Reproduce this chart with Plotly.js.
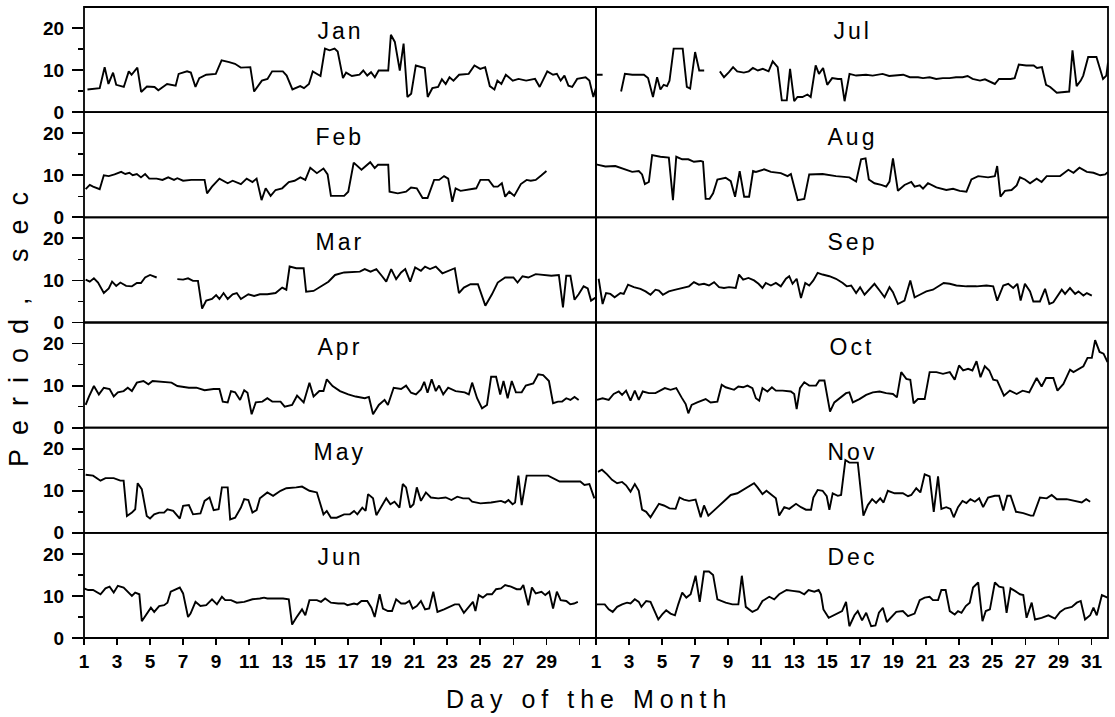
<!DOCTYPE html>
<html><head><meta charset="utf-8">
<script src="https://cdn.plot.ly/plotly-3.0.1.min.js"></script>
<style>body{margin:0;background:#fff}</style>
</head><body><div id="chart" style="width:1115px;height:717px"></div>
<script>
// [day of month, wave period in sec]; null = gap in record
const jan = [[1.21,5.4],[1.95,5.7],[2.25,10.7],[2.48,6.7],[2.76,9.4],[2.95,6.5],[3.41,6.0],[3.71,9.7],[3.88,8.9],[4.23,10.6],[4.46,4.8],[4.81,6.1],[5.27,6.0],[5.5,5.2],[6.03,6.7],[6.55,6.3],[6.73,9.1],[7.24,9.7],[7.47,9.4],[7.75,6.0],[7.98,8.1],[8.4,8.9],[8.98,9.1],[9.33,12.3],[9.79,11.9],[10.14,11.5],[10.49,10.6],[11.07,10.7],[11.3,4.9],[11.77,7.5],[12.11,7.9],[12.39,9.7],[13.04,9.7],[13.27,8.7],[13.62,5.4],[14.09,6.2],[14.32,5.7],[14.62,6.7],[14.85,9.7],[15.32,8.6],[15.59,15.1],[15.87,14.7],[16.17,15.1],[16.36,14.4],[16.68,8.1],[16.87,9.4],[17.22,8.6],[17.68,8.9],[17.91,9.9],[18.15,8.7],[18.38,9.5],[18.61,8.3],[18.84,9.9],[19.42,9.9],[19.58,18.4],[19.82,16.7],[20.12,9.9],[20.35,16.3],[20.58,3.6],[20.81,4.4],[21.09,11.1],[21.63,10.5],[21.81,3.6],[22.09,5.7],[22.44,6.0],[22.67,7.8],[22.9,6.7],[23.13,8.3],[23.37,7.5],[23.71,8.9],[24.29,9.1],[24.64,11.1],[24.99,10.3],[25.29,10.7],[25.57,6.2],[25.85,5.4],[26.03,7.5],[26.27,6.7],[26.54,8.9],[26.96,7.5],[27.31,7.9],[27.77,7.5],[28.31,7.9],[28.59,6.0],[29.05,9.7],[29.4,8.9],[29.63,9.1],[29.86,7.5],[30.09,8.7],[30.33,6.3],[30.56,6.0],[30.86,7.9],[31.37,8.3],[31.6,7.5],[31.84,3.6],[32.0,5.8]];
const feb = [[1.1,6.7],[1.35,7.7],[1.55,7.3],[1.95,6.7],[2.2,10.0],[2.5,9.8],[2.85,10.2],[3.25,10.8],[3.5,10.3],[3.75,10.6],[3.95,10.0],[4.2,10.3],[4.45,9.5],[4.7,10.3],[4.95,9.2],[5.4,9.2],[5.75,8.9],[6.1,9.5],[6.45,8.9],[6.65,9.3],[7.0,8.7],[7.5,8.9],[7.95,8.9],[8.3,8.9],[8.45,5.7],[8.75,7.3],[9.2,9.2],[9.7,8.1],[10.0,8.7],[10.5,7.9],[10.85,9.2],[11.2,8.4],[11.45,9.2],[11.75,4.1],[12.0,6.9],[12.3,5.1],[12.6,6.5],[13.0,6.9],[13.4,8.4],[13.75,8.7],[14.1,9.5],[14.4,8.9],[14.7,11.8],[15.1,10.5],[15.5,11.6],[15.75,10.2],[15.95,5.1],[16.75,5.1],[17.0,6.1],[17.33,13.0],[17.8,11.3],[18.33,13.1],[18.6,11.7],[18.8,12.5],[19.42,12.5],[19.5,6.1],[20.0,5.7],[20.5,6.1],[20.8,7.1],[21.15,6.9],[21.5,4.6],[21.8,4.6],[22.2,8.9],[22.5,8.9],[22.8,9.8],[23.05,9.2],[23.3,3.7],[23.5,6.9],[23.8,6.3],[24.3,6.7],[24.75,6.9],[25.0,8.9],[25.5,8.9],[25.8,7.3],[26.05,7.3],[26.3,8.1],[26.5,4.9],[26.75,6.1],[27.05,5.1],[27.45,7.9],[27.8,8.9],[28.05,8.7],[28.35,8.9],[28.7,10.0],[29.0,11.0]];
const mar = [[1.1,10.2],[1.35,9.7],[1.6,10.5],[1.85,9.5],[2.2,7.0],[2.5,8.1],[2.7,9.7],[2.95,8.7],[3.2,9.5],[3.55,8.7],[3.9,8.6],[4.2,9.4],[4.45,9.4],[4.7,10.7],[5.0,11.3],[5.4,10.7],[5.9,null],[6.65,10.3],[7.0,10.2],[7.3,10.5],[7.6,9.9],[7.9,9.9],[8.15,3.3],[8.4,5.2],[8.75,5.6],[9.0,6.5],[9.2,5.6],[9.45,7.0],[9.7,5.6],[10.0,6.7],[10.25,7.0],[10.5,5.6],[10.95,6.7],[11.3,6.3],[11.65,6.7],[12.1,6.7],[12.6,7.0],[13.0,8.3],[13.25,7.8],[13.45,13.3],[13.85,12.9],[14.3,12.9],[14.45,7.3],[14.9,7.5],[15.35,8.6],[15.8,9.7],[16.2,11.3],[16.75,11.9],[17.7,12.1],[18.0,12.7],[18.35,12.1],[18.7,12.7],[19.05,11.0],[19.3,9.7],[19.6,12.7],[19.9,10.3],[20.2,11.9],[20.45,12.7],[20.75,9.7],[21.05,13.1],[21.4,12.3],[21.65,13.3],[21.95,12.7],[22.3,13.3],[22.7,11.7],[23.2,12.5],[23.45,12.9],[23.7,7.0],[24.0,8.3],[24.4,9.1],[24.85,9.1],[25.3,4.0],[25.7,6.7],[26.05,9.5],[26.5,10.7],[27.0,10.7],[27.25,9.5],[27.55,11.0],[27.9,10.7],[28.35,11.5],[28.8,11.3],[29.3,11.1],[29.75,11.3],[30.0,3.6],[30.2,11.1],[30.45,11.1],[30.7,5.4],[30.95,6.7],[31.25,8.6],[31.5,8.1],[31.7,5.2],[32.0,6.0]];
const apr = [[1.1,5.4],[1.3,7.4],[1.6,9.9],[1.9,7.9],[2.2,9.5],[2.55,9.2],[2.8,7.4],[3.05,8.4],[3.4,8.7],[3.65,9.5],[3.9,8.7],[4.2,10.7],[4.6,11.1],[4.9,10.3],[5.15,11.1],[5.6,10.9],[6.3,10.7],[6.65,9.9],[7.35,9.5],[7.8,9.5],[8.3,8.9],[8.85,9.2],[9.2,9.2],[9.4,6.2],[9.7,6.0],[9.9,8.7],[10.15,8.4],[10.45,6.6],[10.7,8.9],[10.9,8.3],[11.15,3.2],[11.4,6.0],[11.8,6.2],[12.1,7.0],[12.4,6.2],[12.9,6.2],[13.15,5.0],[13.6,5.4],[13.9,7.6],[14.3,6.0],[14.65,10.7],[14.9,7.4],[15.25,8.7],[15.5,8.7],[15.7,11.5],[16.05,9.9],[16.5,8.7],[17.0,7.9],[17.45,7.4],[18.0,7.0],[18.25,7.3],[18.5,3.2],[18.85,5.4],[19.2,6.6],[19.4,5.4],[19.75,9.5],[20.2,9.2],[20.5,10.0],[20.8,8.3],[21.1,7.9],[21.4,9.1],[21.6,10.9],[21.8,8.3],[22.05,11.5],[22.3,8.7],[22.5,10.0],[22.75,7.9],[23.05,9.5],[23.5,8.7],[24.05,8.4],[24.3,7.9],[24.5,10.7],[24.8,7.0],[25.1,4.6],[25.4,5.4],[25.65,12.1],[25.95,12.1],[26.2,7.9],[26.4,11.1],[26.65,7.0],[26.9,11.1],[27.15,8.4],[27.5,8.4],[27.75,10.0],[28.2,10.5],[28.5,12.7],[28.8,12.5],[29.15,11.1],[29.4,5.8],[29.7,6.2],[29.95,6.2],[30.2,7.0],[30.45,6.6],[30.7,7.3],[30.95,6.6]];
const may = [[1.1,13.8],[1.55,13.6],[2.0,12.4],[2.3,13.0],[2.8,13.0],[3.2,12.4],[3.4,12.4],[3.6,4.0],[3.9,4.8],[4.1,5.6],[4.25,11.8],[4.5,10.4],[4.8,4.0],[5.0,3.4],[5.25,4.4],[5.55,4.8],[5.85,4.8],[6.05,5.6],[6.4,5.2],[6.8,3.4],[7.0,6.4],[7.35,6.6],[7.6,4.4],[8.05,4.6],[8.3,7.6],[8.6,8.4],[8.85,5.4],[9.15,5.6],[9.35,10.8],[9.7,10.8],[9.85,3.2],[10.15,3.6],[10.5,6.0],[10.7,8.0],[10.95,7.8],[11.2,4.8],[11.45,5.4],[11.65,8.2],[12.1,9.6],[12.45,8.8],[12.9,10.0],[13.25,10.6],[13.85,10.8],[14.2,11.0],[14.65,10.0],[15.1,9.6],[15.5,4.4],[15.7,5.2],[15.95,3.6],[16.3,3.6],[16.75,4.4],[17.1,4.4],[17.35,5.2],[17.55,4.4],[17.85,6.0],[18.05,5.2],[18.2,9.2],[18.5,8.2],[18.7,4.2],[19.05,6.4],[19.3,8.2],[19.55,6.8],[19.8,7.4],[20.1,6.0],[20.3,11.6],[20.5,10.8],[20.75,6.0],[20.95,6.8],[21.15,10.8],[21.4,7.6],[21.7,9.6],[22.0,8.4],[22.45,8.2],[22.9,8.4],[23.25,7.8],[23.6,8.6],[23.95,8.2],[24.3,8.2],[24.5,7.4],[25.0,7.0],[25.65,7.2],[26.25,7.6],[26.5,7.2],[26.7,7.8],[26.95,6.8],[27.1,7.2],[27.3,13.6],[27.5,6.6],[27.8,13.6],[29.1,13.6],[29.45,12.8],[29.8,12.2],[30.4,12.2],[31.05,12.2],[31.3,11.4],[31.6,11.6],[31.9,8.2]];
const jun = [[1.0,11.8],[1.25,11.4],[1.55,11.4],[2.0,10.4],[2.3,11.8],[2.55,12.2],[2.8,10.8],[3.05,12.4],[3.4,12.0],[3.65,11.0],[3.9,10.0],[4.1,10.8],[4.35,10.4],[4.5,4.0],[4.8,5.8],[5.05,7.2],[5.25,6.2],[5.55,7.6],[5.85,7.8],[6.05,8.4],[6.25,11.0],[6.8,12.0],[7.0,10.6],[7.3,5.0],[7.45,5.8],[7.75,8.6],[8.05,7.6],[8.4,7.8],[8.75,9.2],[9.05,8.0],[9.35,9.8],[9.55,9.0],[9.9,9.0],[10.25,8.4],[10.7,8.6],[11.2,9.2],[11.65,9.4],[11.9,9.6],[12.1,9.4],[12.55,9.4],[13.05,9.4],[13.4,9.2],[13.6,3.2],[13.85,4.8],[14.2,6.8],[14.4,5.4],[14.65,9.0],[15.1,9.0],[15.35,8.6],[15.6,9.4],[15.95,8.4],[16.4,8.2],[16.75,8.2],[16.95,7.8],[17.35,8.2],[17.55,8.0],[17.8,8.8],[18.15,8.8],[18.4,7.2],[18.6,5.0],[18.9,10.4],[19.1,7.0],[19.4,6.4],[19.65,6.4],[19.9,9.2],[20.2,8.2],[20.45,8.2],[20.7,8.8],[20.9,7.0],[21.15,7.6],[21.4,8.8],[21.65,6.8],[21.9,7.0],[22.15,11.0],[22.4,6.2],[22.8,6.8],[23.15,7.4],[23.45,8.0],[23.7,8.0],[24.0,6.0],[24.3,7.4],[24.55,8.6],[24.7,6.4],[24.9,10.2],[25.15,9.6],[25.4,10.4],[25.7,10.4],[25.95,11.6],[26.25,11.8],[26.5,12.6],[26.85,12.2],[27.2,11.6],[27.43,11.6],[27.6,12.6],[27.9,7.8],[28.12,12.0],[28.35,10.6],[28.7,11.0],[28.93,10.2],[29.17,11.0],[29.4,7.0],[29.63,11.0],[29.86,9.0],[30.2,8.8],[30.44,8.0],[30.67,8.2],[30.9,8.6]];
const jul = [[1.0,8.9],[1.4,8.9],[1.9,null],[2.52,4.9],[2.75,9.1],[3.2,8.9],[3.9,8.9],[4.15,8.1],[4.45,3.6],[4.7,8.3],[4.9,5.4],[5.1,6.5],[5.3,6.2],[5.45,7.5],[5.7,15.1],[6.25,15.1],[6.5,6.0],[6.7,5.6],[7.0,14.3],[7.25,9.9],[7.55,9.9],[8.0,null],[8.5,9.7],[8.75,8.3],[9.05,9.5],[9.3,10.7],[9.55,9.7],[9.95,9.4],[10.25,9.7],[10.5,10.5],[10.8,9.9],[11.1,10.3],[11.45,9.7],[11.7,12.1],[12.0,10.7],[12.25,2.8],[12.55,2.8],[12.75,10.3],[13.0,2.6],[13.2,3.6],[13.5,3.6],[13.8,4.2],[14.0,3.6],[14.3,11.1],[14.5,9.1],[14.75,10.5],[15.0,6.5],[15.3,8.1],[15.65,7.9],[15.85,7.9],[16.05,2.6],[16.35,9.1],[16.75,8.7],[17.35,8.9],[17.75,8.7],[18.35,9.1],[18.75,8.6],[19.6,8.9],[20.0,8.3],[20.5,8.3],[20.8,8.1],[21.2,8.3],[21.6,7.9],[22.0,8.1],[22.4,8.1],[22.8,8.3],[23.2,8.3],[23.5,8.6],[23.8,7.9],[24.25,7.5],[24.55,7.8],[24.85,7.3],[25.15,6.7],[25.4,7.9],[26.1,7.9],[26.35,8.1],[26.6,11.3],[27.05,11.1],[27.5,11.1],[27.7,10.5],[28.0,10.7],[28.25,6.5],[28.5,6.0],[28.9,4.6],[29.3,4.8],[29.65,4.9],[29.85,14.7],[30.1,6.2],[30.35,7.5],[30.5,8.7],[30.8,13.1],[31.3,13.1],[31.7,7.9],[31.9,8.7],[32.0,11.8]];
const aug = [[1.0,12.6],[1.57,12.1],[2.17,12.2],[2.78,11.4],[3.19,10.8],[3.59,11.0],[3.79,10.2],[3.96,7.9],[4.2,8.4],[4.4,14.8],[4.9,14.4],[5.41,14.2],[5.66,4.1],[5.86,14.4],[6.22,13.8],[6.59,13.8],[6.93,13.2],[7.34,13.4],[7.48,13.2],[7.64,4.4],[7.88,4.4],[8.09,5.7],[8.35,9.0],[8.85,9.4],[9.16,8.6],[9.42,4.9],[9.7,11.0],[9.97,4.9],[10.27,4.9],[10.51,11.0],[10.68,10.8],[11.18,11.4],[11.59,10.8],[12.19,10.5],[12.6,9.8],[12.8,10.3],[13.21,4.1],[13.61,4.4],[13.91,10.2],[14.72,10.3],[15.53,9.8],[16.34,9.5],[16.75,8.5],[17.05,13.8],[17.32,14.0],[17.52,9.0],[17.86,8.1],[18.27,7.7],[18.57,7.3],[18.77,8.5],[18.98,14.0],[19.28,6.3],[19.68,7.7],[20.09,8.4],[20.29,7.3],[20.6,7.6],[20.8,6.8],[21.1,8.1],[21.61,7.1],[22.21,6.5],[22.62,6.8],[23.02,6.3],[23.43,6.1],[23.73,9.0],[24.14,9.8],[24.74,9.5],[25.15,9.8],[25.29,12.2],[25.49,4.9],[25.76,6.3],[26.16,6.5],[26.47,7.6],[26.67,9.5],[26.97,9.0],[27.28,8.1],[27.68,9.2],[27.98,8.4],[28.29,9.8],[28.9,9.8],[29.1,9.8],[29.6,11.3],[29.91,10.6],[30.27,11.8],[30.72,10.8],[31.12,10.6],[31.53,10.0],[31.83,10.2],[32.0,10.8]];
const sep = [[1.16,10.4],[1.4,4.4],[1.61,7.0],[1.87,6.8],[2.13,6.0],[2.48,7.0],[2.68,6.8],[2.94,9.0],[3.29,8.4],[3.69,8.0],[4.0,7.4],[4.3,6.6],[4.6,7.8],[4.81,7.6],[5.05,6.6],[5.41,7.4],[5.82,7.8],[6.22,8.2],[6.63,8.6],[6.93,9.6],[7.23,9.0],[7.54,9.2],[7.84,8.8],[8.15,9.6],[8.45,8.4],[8.75,8.2],[9.06,8.4],[9.46,8.2],[9.66,11.4],[9.91,10.2],[10.23,10.6],[10.57,10.0],[10.84,9.2],[11.08,8.2],[11.28,9.4],[11.59,8.8],[11.89,9.4],[12.19,8.6],[12.5,10.4],[12.7,11.0],[12.9,9.2],[13.15,10.4],[13.41,5.8],[13.67,9.4],[13.91,8.8],[14.16,10.0],[14.42,11.8],[14.72,11.4],[15.13,11.0],[15.53,10.4],[15.94,9.4],[16.18,8.6],[16.45,8.8],[16.75,7.0],[16.99,8.4],[17.26,6.6],[17.56,8.0],[17.86,9.2],[18.17,7.6],[18.47,6.0],[18.77,8.4],[18.98,7.2],[19.28,4.4],[19.68,5.2],[20.03,10.0],[20.29,6.0],[20.6,6.6],[21.0,7.4],[21.4,7.8],[21.77,8.6],[22.05,9.4],[22.42,9.2],[22.82,8.8],[23.43,8.6],[24.04,8.6],[24.64,8.8],[25.05,8.6],[25.29,5.2],[25.66,8.8],[25.96,9.2],[26.26,8.2],[26.51,9.2],[26.71,5.2],[26.97,9.2],[27.28,7.4],[27.48,5.0],[27.88,5.0],[28.19,8.0],[28.45,4.4],[28.69,4.8],[28.9,6.0],[29.2,7.8],[29.4,6.8],[29.7,8.2],[30.01,6.8],[30.21,7.4],[30.51,6.4],[30.72,7.0],[31.02,6.4]];
const oct = [[1.06,6.6],[1.4,7.0],[1.77,6.6],[2.07,8.0],[2.38,8.6],[2.58,7.8],[2.82,8.8],[3.09,6.4],[3.35,8.8],[3.59,6.6],[3.83,8.6],[4.2,8.2],[4.6,8.2],[5.17,9.4],[5.51,9.0],[5.86,9.4],[6.18,7.2],[6.43,5.6],[6.59,3.4],[6.79,5.4],[7.13,6.0],[7.64,6.8],[7.94,6.0],[8.35,6.2],[8.61,10.2],[8.85,9.6],[9.36,9.0],[9.62,9.8],[9.91,9.6],[10.17,10.0],[10.47,9.4],[10.68,7.0],[10.88,6.4],[11.08,9.4],[11.38,8.6],[11.65,9.6],[11.89,8.8],[12.3,8.8],[12.8,8.6],[13.0,8.0],[13.15,4.4],[13.35,9.4],[13.61,10.8],[13.91,10.0],[14.32,10.0],[14.52,11.2],[14.83,11.2],[14.97,8.0],[15.17,3.8],[15.43,6.0],[15.74,7.0],[16.14,8.2],[16.34,8.4],[16.55,6.0],[16.95,6.8],[17.36,7.8],[17.76,8.4],[18.17,8.6],[18.57,8.2],[18.98,8.0],[19.22,7.2],[19.48,13.2],[19.79,11.6],[20.03,11.4],[20.23,5.8],[20.49,6.8],[20.9,6.8],[21.2,13.2],[21.61,13.2],[22.01,12.8],[22.42,13.2],[22.72,11.4],[22.98,14.8],[23.23,13.6],[23.53,14.0],[23.79,13.6],[24.04,15.8],[24.28,12.0],[24.54,14.6],[24.81,13.6],[25.05,11.4],[25.29,11.2],[25.7,7.6],[26.06,8.8],[26.47,8.0],[26.83,8.8],[27.23,8.4],[27.68,11.8],[27.98,9.8],[28.25,11.8],[28.69,11.8],[28.94,8.8],[29.3,10.4],[29.7,13.8],[29.91,13.2],[30.21,13.8],[30.51,14.6],[30.76,16.6],[31.02,16.6],[31.22,20.8],[31.49,18.0],[31.73,17.6],[31.97,15.6]];
const nov = [[1.12,14.5],[1.36,15.0],[1.67,13.9],[1.97,12.6],[2.28,11.8],[2.58,12.1],[2.82,11.3],[3.09,9.8],[3.35,11.6],[3.59,10.0],[3.79,5.5],[4.04,5.0],[4.3,3.7],[4.5,4.9],[4.81,6.9],[5.11,6.5],[5.45,5.8],[5.82,5.7],[6.06,8.4],[6.32,7.9],[6.63,7.6],[7.03,7.9],[7.34,3.7],[7.54,6.5],[7.8,4.1],[8.25,5.7],[8.75,7.4],[9.16,9.0],[9.56,9.4],[9.97,10.4],[10.27,11.2],[10.57,11.8],[10.78,10.8],[11.08,9.2],[11.32,10.0],[11.65,9.0],[11.89,8.2],[12.09,4.1],[12.4,6.1],[12.7,5.7],[13.11,6.9],[13.41,6.1],[13.71,5.5],[14.02,5.5],[14.16,8.4],[14.42,10.2],[14.72,10.0],[14.97,8.7],[15.13,5.5],[15.33,9.4],[15.64,8.8],[15.84,9.0],[16.1,17.3],[16.34,16.7],[16.85,16.7],[17.19,4.1],[17.46,6.6],[17.72,8.0],[17.96,7.1],[18.21,8.2],[18.41,7.2],[18.67,10.0],[19.08,9.4],[19.58,9.4],[19.89,8.7],[20.09,9.0],[20.39,10.6],[20.64,9.6],[20.9,13.9],[21.2,13.4],[21.45,5.0],[21.71,13.4],[21.91,5.7],[22.21,6.1],[22.46,5.7],[22.66,3.7],[22.92,6.1],[23.19,7.6],[23.43,7.1],[23.67,8.0],[23.94,7.4],[24.2,8.2],[24.44,6.1],[24.74,8.4],[25.15,8.8],[25.41,8.8],[25.66,5.3],[25.9,8.8],[26.1,8.8],[26.43,5.0],[26.87,4.7],[27.32,4.1],[27.48,4.1],[27.88,8.4],[28.29,8.2],[28.59,9.0],[28.9,8.0],[29.5,8.0],[30.11,7.4],[30.41,7.2],[30.68,8.0],[30.92,7.4]];
const dec = [[1.0,8.0],[1.53,8.0],[1.77,6.8],[2.01,6.2],[2.28,7.4],[2.58,8.0],[2.88,8.4],[3.09,8.2],[3.35,9.2],[3.59,8.6],[3.75,7.4],[4.04,8.8],[4.3,8.6],[4.5,6.8],[4.77,4.4],[5.01,5.6],[5.25,6.6],[5.51,5.8],[5.78,5.4],[5.98,8.0],[6.22,10.8],[6.47,9.6],[6.73,10.4],[7.03,14.8],[7.28,8.6],[7.54,15.8],[7.84,15.8],[8.09,15.0],[8.35,9.2],[8.85,8.4],[9.26,8.0],[9.62,8.0],[9.83,14.8],[10.07,7.4],[10.47,6.2],[10.78,6.8],[11.08,8.8],[11.49,9.8],[11.79,9.2],[12.09,10.4],[12.54,11.4],[12.9,11.2],[13.31,11.0],[13.61,10.4],[13.87,11.4],[14.22,11.0],[14.48,11.4],[14.62,10.4],[14.77,6.8],[15.09,4.8],[15.53,5.6],[15.9,6.4],[16.14,8.6],[16.34,2.8],[16.65,5.4],[16.85,6.4],[17.11,4.2],[17.36,6.0],[17.66,2.8],[17.92,3.0],[18.13,6.0],[18.37,7.2],[18.61,3.8],[18.87,4.8],[19.18,6.2],[19.58,6.4],[19.89,5.2],[20.29,5.8],[20.6,9.0],[20.9,9.6],[21.2,9.8],[21.4,9.0],[21.71,9.0],[21.91,11.4],[22.17,11.4],[22.42,6.4],[22.72,5.6],[22.92,6.4],[23.13,6.0],[23.39,7.6],[23.63,8.4],[23.83,12.0],[24.14,13.2],[24.4,4.0],[24.6,6.4],[24.85,6.8],[25.15,13.2],[25.41,12.2],[25.66,12.0],[25.86,6.0],[26.1,11.8],[26.36,11.2],[26.67,10.4],[26.87,10.2],[27.07,4.8],[27.38,8.4],[27.58,4.4],[27.98,4.8],[28.39,5.4],[28.79,4.6],[29.1,6.2],[29.4,7.0],[29.81,7.4],[30.11,8.4],[30.35,8.8],[30.61,4.4],[30.92,5.4],[31.12,7.2],[31.32,5.4],[31.63,10.2],[31.97,9.6]];

const monthNames = ['Jan','Feb','Mar','Apr','May','Jun','Jul','Aug','Sep','Oct','Nov','Dec'];
const monthSeries = [jan,feb,mar,apr,may,jun,jul,aug,sep,oct,nov,dec];
const dayTicks = [1,3,5,7,9,11,13,15,17,19,21,23,25,27,29,31];
const leftDayLabels = ['1','3','5','7','9','11','13','15','17','19','21','23','25','27','29',''];
const rightDayLabels = ['1','3','5','7','9','11','13','15','17','19','21','23','25','27','29','31'];
const periodTicks = [0,10,20];
const periodMinor = [5,15];
const yTitle = 'Period, sec';
const xTitle = 'Day of the Month';

const fontFam = 'Liberation Sans, Arial, sans-serif';
const traces = [], shapes = [], annotations = [];
const layout = {
  width:1115, height:717,
  margin:{l:84, r:7, t:7, b:79},
  showlegend:false,
  paper_bgcolor:'#fff', plot_bgcolor:'#fff',
  font:{family:fontFam, color:'#000'}
};
const xCommon = {range:[1,32], tickvals:dayTicks, ticks:'outside', ticklen:6, tickwidth:1.8, tickcolor:'#000',
  showgrid:false, zeroline:false, showline:false, fixedrange:true,
  tickfont:{family:fontFam, size:19, weight:700, color:'#000'}};
layout.xaxis = Object.assign({}, xCommon, {domain:[0,0.5], anchor:'y6', ticktext:leftDayLabels});
layout.xaxis2 = Object.assign({}, xCommon, {domain:[0.5,1], anchor:'y12', ticktext:rightDayLabels});

for (let m = 0; m < 12; m++) {
  const col = m < 6 ? 0 : 1;
  const row = m % 6;
  const yName = 'yaxis' + (m === 0 ? '' : (m+1));
  const yRef = 'y' + (m === 0 ? '' : (m+1));
  const xRef = col === 0 ? 'x' : 'x2';
  const ax = {
    domain:[1-(row+1)/6, 1-row/6], range:[0,25], anchor:xRef,
    showgrid:false, zeroline:false, showline:false, fixedrange:true,
    tickvals:periodTicks
  };
  if (col === 0) {
    Object.assign(ax, {ticks:'outside', ticklen:11, tickwidth:1.8, tickcolor:'#000', showticklabels:true,
      ticklabelstandoff:4,
      tickfont:{family:fontFam, size:19, weight:700, color:'#000'},
      minor:{tickvals:periodMinor, ticks:'outside', ticklen:5, tickwidth:1.5, tickcolor:'#000'}});
  } else {
    Object.assign(ax, {ticks:'', showticklabels:false});
  }
  layout[yName] = ax;
  const s = monthSeries[m];
  traces.push({type:'scatter', mode:'lines', x:s.map(p=>p[0]), y:s.map(p=>p[1]),
    xaxis:xRef, yaxis:yRef, connectgaps:false, hoverinfo:'skip',
    line:{color:'#000', width:1.9}});
  shapes.push({type:'rect', xref:xRef+' domain', yref:yRef+' domain', x0:0, x1:1, y0:0, y1:1,
    line:{color:'#000', width:1.8}, fillcolor:'rgba(0,0,0,0)', layer:'above'});
  annotations.push({xref:xRef, yref:yRef, x:16.5, y:19.2, text:monthNames[m], showarrow:false,
    xanchor:'center', yanchor:'middle', font:{family:fontFam, size:23, color:'#000'}});
}
annotations.push({xref:'paper', yref:'paper', x:-0.064, y:0.5, text:yTitle, textangle:-90, showarrow:false,
  xanchor:'center', yanchor:'middle', font:{family:fontFam, size:27, color:'#000'}});
annotations.push({xref:'paper', yref:'paper', x:0.493, y:-0.097, text:xTitle, showarrow:false,
  xanchor:'center', yanchor:'middle', font:{family:fontFam, size:25, color:'#000'}});
layout.shapes = shapes;
layout.annotations = annotations;

Plotly.newPlot('chart', traces, layout, {staticPlot:true, displayModeBar:false}).then(function(){
  document.querySelectorAll('.annotation-text').forEach(function(t){
    const s = t.textContent;
    if (s === yTitle) { t.style.letterSpacing = '14px'; }
    else if (s === xTitle) { t.style.letterSpacing = '6px'; }
    else if (monthNames.indexOf(s) >= 0) { t.style.letterSpacing = '3px'; }
  });
});
</script></body></html>
